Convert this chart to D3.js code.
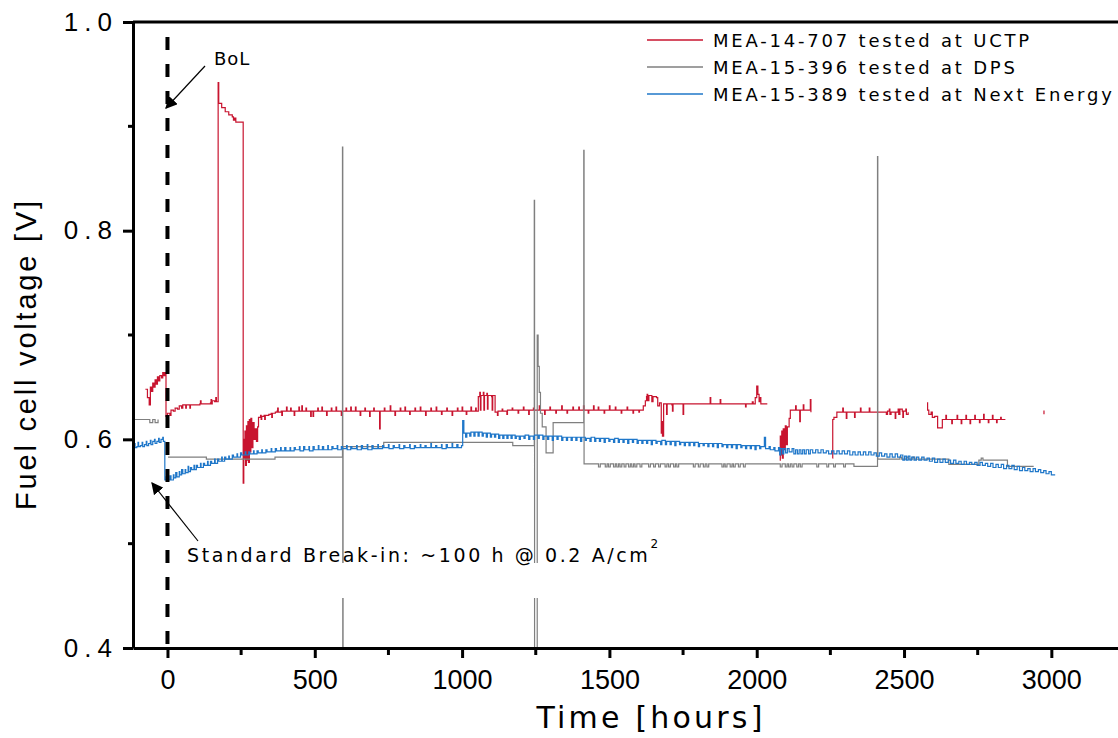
<!DOCTYPE html>
<html>
<head>
<meta charset="utf-8">
<script src="https://cdn.jsdelivr.net/npm/d3@7"></script>
<style>
  body { margin: 0; background: #fff; }
  svg { display: block; font-family: "DejaVu Sans", Verdana, sans-serif; }
  .axis path, .axis line { stroke: #000; stroke-width: 3; }
  .axis text { fill: #000; }
</style>
</head>
<body>
<svg id="chart"></svg>
<script>
// each series is [hours, volts]; a null volt value marks a gap in the record
const uctp = [
  [-75,0.648],[-68,0.640],[-62,0.633],[-58,0.650],[-54,0.646],[-50,0.654],[-46,0.650],[-42,0.657],[-38,0.653],
  [-34,0.660],[-30,0.656],[-26,0.661],[-20,0.659],[-16,0.664],[-12,0.661],[-8,0.664],[-5,0.622],
  [0,0.625],[8,0.623],[12,0.628],[20,0.627],[26,0.630],[34,0.629],[40,0.632],[48,0.630],[52,0.633],[60,0.633],
  [62,0.630],[64,0.633],[74,0.633],[76,0.630],[78,0.633],[90,0.633],[110,0.634],[112,0.637],[114,0.634],[130,0.634],
  [146,0.635],[148,0.638],[150,0.634],[152,0.637],[160,0.636],[164,0.640],[166,0.636],[171,0.636],
  [172,0.942],[174,0.922],[184,0.918],[196,0.914],[208,0.911],[220,0.909],[224,0.906],[228,0.908],[232,0.904],
  [257,0.558],[259,0.600],[261,0.582],[263,0.608],[265,0.575],[268,0.613],[270,0.580],[273,0.617],[275,0.578],
  [278,0.619],[280,0.588],[283,0.620],[286,0.592],[290,0.616],[294,0.600],[298,0.610],[302,0.598],[306,0.612],
  [309,0.621],[316,0.623],[318,0.619],[320,0.622],[328,0.623],[330,0.619],[332,0.623],[344,0.624],[352,0.625],
  [354,0.621],[356,0.625],[366,0.626],[372,0.627],[374,0.630],[376,0.626],[386,0.627],[388,0.623],[390,0.627],
  [404,0.631],[406,0.627],[418,0.630],[420,0.627],[430,0.623],[432,0.627],[446,0.631],[448,0.627],[456,0.632],
  [458,0.627],[470,0.630],[472,0.627],[486,0.622],[488,0.627],[494,0.622],[496,0.627],[510,0.630],[512,0.627],
  [524,0.631],[526,0.627],[540,0.623],[542,0.627],[556,0.630],[558,0.627],[572,0.631],[574,0.627],[590,0.623],
  [592,0.627],[606,0.630],[608,0.627],[622,0.631],[624,0.627],[638,0.631],[640,0.627],[654,0.623],[656,0.627],
  [670,0.630],[672,0.627],[686,0.622],[688,0.627],[700,0.630],[702,0.627],[720,0.610],[722,0.627],[736,0.630],
  [738,0.627],[756,0.632],[758,0.627],[772,0.623],[774,0.627],[790,0.630],[792,0.627],[806,0.631],[808,0.627],
  [822,0.624],[824,0.627],[840,0.630],[842,0.627],[858,0.631],[860,0.627],[876,0.623],[878,0.627],[894,0.630],
  [896,0.627],[912,0.631],[914,0.627],[930,0.624],[932,0.627],[948,0.630],[950,0.627],[966,0.623],[968,0.627],
  [984,0.630],[986,0.627],[1000,0.631],[1002,0.627],[1014,0.624],[1016,0.627],[1030,0.631],[1032,0.627],
  [1046,0.630],[1048,0.627],[1055,0.641],[1060,0.645],[1062,0.628],[1064,0.642],[1072,0.645],[1074,0.628],
  [1076,0.642],[1084,0.644],[1086,0.629],[1088,0.642],[1100,0.641],[1102,0.628],[1104,0.642],[1110,0.642],
  [1112,0.626],[1120,0.623],[1122,0.627],[1136,0.629],[1138,0.627],[1152,0.624],[1154,0.628],[1170,0.630],
  [1172,0.628],[1190,0.625],[1192,0.628],[1208,0.631],[1210,0.628],[1226,0.624],[1228,0.628],[1242,0.630],
  [1244,0.628],[1262,0.632],[1264,0.628],[1280,0.624],[1282,0.628],[1298,0.631],[1300,0.628],[1318,0.625],
  [1320,0.628],[1338,0.632],[1340,0.628],[1356,0.625],[1358,0.628],[1376,0.631],[1378,0.628],[1396,0.631],
  [1398,0.628],[1412,0.632],[1414,0.628],[1428,0.625],[1430,0.628],[1446,0.632],[1448,0.628],[1462,0.631],
  [1464,0.628],[1482,0.625],[1484,0.628],[1500,0.632],[1502,0.628],[1520,0.631],[1522,0.628],[1540,0.625],
  [1542,0.628],[1560,0.631],[1562,0.628],[1580,0.625],[1582,0.628],[1600,0.626],[1602,0.628],
  [1615,0.632],[1622,0.637],[1626,0.641],[1628,0.643],[1630,0.637],[1634,0.642],[1642,0.642],[1644,0.636],
  [1648,0.641],[1660,0.640],[1664,0.632],[1670,0.635],[1676,0.606],[1678,0.617],[1680,0.603],[1684,0.634],
  [1690,0.634],[1694,0.624],[1696,0.634],[1712,0.633],[1714,0.627],[1716,0.634],[1748,0.634],[1750,0.624],
  [1752,0.634],[1842,0.640],[1844,0.634],[1876,0.638],[1878,0.634],[1962,0.631],[1964,0.634],[1985,0.636],
  [1988,0.634],[1995,0.640],[2000,0.651],[2004,0.643],[2008,0.636],[2012,0.640],[2014,0.634],[2036,0.634],
  [2037,null],
  [2078,0.580],[2080,0.603],[2082,0.585],[2085,0.608],[2087,0.582],[2090,0.610],[2093,0.590],[2097,0.613],
  [2100,0.595],[2104,0.612],[2110,0.620],[2114,0.628],[2130,0.628],[2132,0.632],[2134,0.628],[2144,0.628],
  [2146,0.617],[2148,0.628],[2156,0.628],[2158,0.633],[2160,0.628],[2180,0.628],[2182,0.638],[2184,0.626],
  [2185,null],
  [2257,0.582],[2258,0.619],[2262,0.621],[2272,0.626],[2290,0.626],[2292,0.630],[2294,0.626],[2304,0.620],
  [2306,0.626],[2332,0.621],[2334,0.626],[2352,0.630],[2354,0.626],[2382,0.630],[2384,0.626],[2440,0.624],
  [2444,0.627],[2450,0.629],[2452,0.624],[2456,0.626],[2470,0.620],[2472,0.626],[2480,0.629],[2482,0.624],
  [2486,0.629],[2494,0.627],[2496,0.621],[2498,0.627],[2506,0.629],[2508,0.624],[2514,0.626],[2515,null],
  [2578,0.635],[2580,0.628],[2584,0.624],[2592,0.626],[2596,0.621],[2604,0.622],[2614,0.611],[2630,0.619],
  [2642,0.623],[2644,0.619],[2662,0.615],[2664,0.619],[2680,0.623],[2682,0.619],[2694,0.615],[2696,0.619],
  [2710,0.623],[2712,0.619],[2724,0.615],[2726,0.619],[2740,0.623],[2742,0.619],[2756,0.616],[2758,0.619],
  [2770,0.624],[2772,0.619],[2786,0.616],[2788,0.619],[2800,0.623],[2802,0.619],[2814,0.616],[2816,0.619],
  [2828,0.621],[2830,0.619],[2844,0.619],[2845,null],
  [2973,0.627],[2975,0.624],[2976,null]
];

const dps = [
  [-117,0.619],[-62,0.619],[-60,0.616],[-52,0.616],[-50,0.619],[-44,0.619],[-42,0.616],[-34,0.616],[-32,0.619],
  [-31,null],
  [2,0.583],[132,0.581],[360,0.581],[365,0.583],[594,0.880],[595,0.380],[596,0.593],[734,0.597],[1170,0.597],
  [1172,0.594],[1245,0.829],[1246,0.380],[1255,0.700],[1258,0.670],[1262,0.645],[1266,0.625],[1272,0.612],
  [1285,0.587],[1309,0.616],[1413,0.877],[1414,0.5765],
  [1463,0.5735],[1469,0.5765],[1486,0.5735],[1492,0.5765],[1497,0.5735],[1503,0.5765],[1514,0.5735],[1520,0.5765],
  [1525,0.5735],[1531,0.5765],[1536,0.5735],[1542,0.5765],[1550,0.5735],[1556,0.5765],[1565,0.5735],[1571,0.5765],
  [1576,0.5735],[1582,0.5765],[1587,0.5735],[1593,0.5765],[1604,0.5735],[1610,0.5765],[1633,0.5735],[1639,0.5765],
  [1650,0.5735],[1656,0.5765],[1667,0.5735],[1673,0.5765],[1689,0.5735],[1695,0.5765],[1701,0.5735],[1707,0.5765],
  [1718,0.5735],[1724,0.5765],[1729,0.5735],[1735,0.5765],[1785,0.5735],[1791,0.5765],[1802,0.5735],[1808,0.5765],
  [1819,0.5735],[1825,0.5765],[1831,0.5735],[1837,0.5765],[1882,0.5735],[1888,0.5765],[1893,0.5735],[1899,0.5765],
  [1910,0.5735],[1916,0.5765],[1921,0.5735],[1927,0.5765],[1938,0.5735],[1944,0.5765],[1955,0.5735],[1961,0.5765],
  [2080,0.5735],[2086,0.5765],[2097,0.5735],[2103,0.5765],[2108,0.5735],[2114,0.5765],[2120,0.5735],[2126,0.5765],
  [2136,0.5735],[2142,0.5765],[2148,0.5735],[2154,0.5765],[2204,0.5735],[2210,0.5765],[2238,0.5735],[2244,0.5765],
  [2261,0.5735],[2267,0.5765],[2295,0.5735],[2301,0.5765],[2330,0.574],
  [2410,0.871],[2411,0.581],[2486,0.583],[2492,0.581],[2508,0.583],[2514,0.581],[2530,0.583],[2536,0.581],
  [2652,0.576],[2754,0.580],[2762,0.582],[2768,0.580],[2851,0.574],[2940,0.574],[2941,null]
];

const nextEnergy = [
  [-117,0.593],[-112,0.596],[-110,0.592],[-104,0.593],[-100,0.597],[-98,0.593],[-92,0.594],[-86,0.597],[-84,0.593],
  [-78,0.595],[-72,0.598],[-70,0.594],[-64,0.596],[-58,0.599],[-56,0.595],[-50,0.598],[-44,0.600],[-42,0.596],
  [-36,0.598],[-30,0.601],[-28,0.597],[-22,0.600],[-16,0.602],[-14,0.598],[-9,0.561],
  [-4,0.564],[2,0.561],[8,0.565],[12,0.561],[20,0.566],[22,0.563],[28,0.568],[32,0.564],[40,0.569],[42,0.566],
  [48,0.571],[52,0.567],[60,0.571],[62,0.568],[70,0.574],[72,0.569],[78,0.573],[82,0.571],[90,0.575],[92,0.571],
  [98,0.575],[102,0.573],[112,0.577],[114,0.573],[122,0.577],[126,0.575],[136,0.579],[138,0.575],[146,0.579],
  [150,0.577],[160,0.581],[162,0.577],[170,0.581],[174,0.579],[184,0.583],[186,0.579],[194,0.583],[198,0.581],
  [208,0.584],[210,0.581],[220,0.585],[224,0.583],[236,0.586],[238,0.583],[248,0.587],[252,0.585],[264,0.588],
  [266,0.585],[276,0.588],[280,0.586],[292,0.589],[294,0.586],[304,0.589],[308,0.587],[320,0.590],[322,0.587],
  [334,0.590],[338,0.588],[352,0.591],[354,0.588],[366,0.591],[370,0.589],[384,0.592],[386,0.589],[398,0.592],
  [402,0.589],[416,0.592],[418,0.589],[430,0.592],[434,0.590],[448,0.593],[450,0.589],[462,0.593],[466,0.590],
  [480,0.593],[482,0.589],[494,0.593],[498,0.590],[512,0.594],[514,0.590],[526,0.593],[530,0.590],[544,0.594],
  [546,0.590],[558,0.593],[562,0.591],[576,0.594],[578,0.590],[590,0.593],[594,0.591],[608,0.594],[610,0.590],
  [622,0.593],[626,0.591],[642,0.594],[644,0.590],[658,0.594],[662,0.591],[678,0.595],[680,0.590],[694,0.594],
  [698,0.591],[714,0.595],[716,0.591],[730,0.594],[734,0.592],[750,0.595],[752,0.591],[766,0.594],[770,0.592],
  [786,0.595],[788,0.591],[802,0.594],[806,0.592],[822,0.595],[824,0.591],[838,0.594],[842,0.592],[858,0.595],
  [860,0.592],[874,0.594],[878,0.592],[894,0.596],[896,0.592],[910,0.594],[914,0.592],[930,0.595],[932,0.591],
  [946,0.595],[950,0.592],[966,0.596],[968,0.592],[982,0.595],[986,0.592],[998,0.594],
  [1002,0.618],[1006,0.606],[1012,0.602],[1016,0.606],[1026,0.603],[1030,0.607],[1040,0.603],[1044,0.607],
  [1054,0.603],[1058,0.607],[1068,0.603],[1072,0.606],[1082,0.602],[1086,0.606],[1096,0.602],[1100,0.605],
  [1110,0.602],[1114,0.605],[1124,0.601],[1128,0.604],[1138,0.601],[1142,0.604],[1152,0.601],[1156,0.604],
  [1166,0.601],[1170,0.604],[1180,0.601],[1184,0.603],[1194,0.600],[1198,0.603],[1210,0.601],[1214,0.604],
  [1226,0.600],[1230,0.603],[1242,0.600],[1246,0.604],[1258,0.601],[1262,0.604],[1274,0.600],[1278,0.603],
  [1290,0.600],[1294,0.603],[1306,0.599],[1310,0.603],[1322,0.600],[1326,0.603],[1338,0.599],[1342,0.602],
  [1354,0.599],[1358,0.602],[1370,0.599],[1374,0.602],[1386,0.599],[1390,0.602],[1402,0.598],[1406,0.602],
  [1418,0.599],[1422,0.601],[1434,0.598],[1438,0.602],[1450,0.598],[1454,0.601],[1466,0.598],[1470,0.601],
  [1482,0.597],[1486,0.601],[1498,0.598],[1502,0.600],[1514,0.597],[1518,0.601],[1530,0.597],[1534,0.600],
  [1546,0.597],[1550,0.600],[1562,0.596],[1566,0.600],[1578,0.597],[1582,0.600],[1594,0.596],[1598,0.599],
  [1610,0.596],[1614,0.599],[1626,0.596],[1630,0.599],[1642,0.595],[1646,0.599],[1658,0.596],[1662,0.598],
  [1674,0.595],[1678,0.599],[1690,0.595],[1694,0.598],[1706,0.595],[1710,0.598],[1722,0.594],[1726,0.598],
  [1738,0.595],[1742,0.597],[1754,0.594],[1758,0.597],[1770,0.594],[1774,0.597],[1786,0.594],[1790,0.597],
  [1802,0.593],[1806,0.596],[1818,0.594],[1822,0.596],[1834,0.593],[1838,0.596],[1850,0.593],[1854,0.596],
  [1866,0.592],[1870,0.596],[1882,0.593],[1886,0.595],[1898,0.592],[1902,0.595],[1914,0.592],[1918,0.595],
  [1930,0.591],[1934,0.595],[1946,0.592],[1950,0.594],[1962,0.591],[1966,0.594],[1978,0.591],[1982,0.594],
  [1994,0.590],[1998,0.594],[2010,0.591],[2014,0.593],[2026,0.602],[2030,0.591],[2042,0.593],[2046,0.590],
  [2058,0.592],[2062,0.589],[2074,0.592],[2078,0.585],[2082,0.591],[2088,0.586],[2092,0.591],[2098,0.587],
  [2104,0.591],[2110,0.588],[2120,0.591],[2126,0.586],[2132,0.590],[2138,0.586],[2144,0.590],[2150,0.586],
  [2156,0.590],[2162,0.586],[2168,0.590],[2176,0.586],[2182,0.590],[2190,0.587],[2200,0.590],[2208,0.587],
  [2218,0.590],[2226,0.587],[2236,0.589],[2244,0.586],[2254,0.589],[2262,0.586],[2272,0.589],[2280,0.586],
  [2290,0.589],[2298,0.586],[2308,0.589],[2316,0.585],[2326,0.588],[2334,0.585],[2344,0.588],[2352,0.585],
  [2362,0.588],[2370,0.585],[2380,0.588],[2388,0.585],[2398,0.587],[2406,0.584],[2416,0.587],[2424,0.584],
  [2434,0.586],[2442,0.583],[2452,0.586],[2460,0.583],[2470,0.586],[2478,0.583],[2488,0.585],[2496,0.580],
  [2502,0.584],[2508,0.580],[2514,0.584],[2520,0.580],[2526,0.583],[2534,0.580],[2542,0.583],[2550,0.580],
  [2560,0.583],[2568,0.580],[2578,0.582],[2586,0.579],[2596,0.582],[2604,0.578],[2614,0.581],[2622,0.578],
  [2632,0.581],[2640,0.578],[2650,0.580],[2658,0.577],[2668,0.580],[2676,0.577],[2686,0.579],[2694,0.576],
  [2704,0.579],[2712,0.576],[2722,0.578],[2730,0.576],[2740,0.578],[2748,0.575],[2758,0.578],[2766,0.575],
  [2776,0.577],[2784,0.574],[2794,0.577],[2802,0.573],[2812,0.576],[2820,0.573],[2830,0.576],[2838,0.572],
  [2848,0.575],[2856,0.572],[2866,0.575],[2874,0.571],[2884,0.574],[2892,0.570],[2902,0.573],[2910,0.570],
  [2920,0.572],[2928,0.569],[2938,0.572],[2946,0.569],[2956,0.571],[2964,0.568],[2974,0.570],[2982,0.567],
  [2992,0.569],[3000,0.566],[3013,0.566]
];

const seriesNames = ['MEA-14-707 tested at UCTP', 'MEA-15-396 tested at DPS', 'MEA-15-389 tested at Next Energy'];
const seriesColors = ['#c8142f', '#7f7f7f', '#1f77c9'];

const xMajorTicks = [0, 500, 1000, 1500, 2000, 2500, 3000];
const xMinorTicks = [250, 750, 1250, 1750, 2250, 2750, 3250];
const yMajorTicks = [0.4, 0.6, 0.8, 1.0];
const yMinorTicks = [0.5, 0.7, 0.9];

class VoltageChart {

  constructor(_config, _data) {
    this.config = {
      parentElement: _config.parentElement,
      containerWidth: _config.containerWidth || 1118,
      containerHeight: _config.containerHeight || 738,
      margin: { top: 22, bottom: 90, right: -7, left: 133 }
    }
    this.data = _data;
    this.initVis();
  }

  initVis() {
    let vis = this;

    vis.width = vis.config.containerWidth - vis.config.margin.left - vis.config.margin.right;
    vis.height = vis.config.containerHeight - vis.config.margin.top - vis.config.margin.bottom;

    vis.xScale = d3.scaleLinear()
        .domain([-117, 3250])
        .range([0, vis.width]);

    vis.yScale = d3.scaleLinear()
        .domain([0.4, 1.0])
        .range([vis.height, 0]);

    vis.svg = d3.select(vis.config.parentElement)
        .attr('width', vis.config.containerWidth)
        .attr('height', vis.config.containerHeight);

    vis.chart = vis.svg.append('g')
        .attr('transform', `translate(${vis.config.margin.left},${vis.config.margin.top})`);

    // arrow head used by both annotations
    vis.svg.append('defs').append('marker')
        .attr('id', 'arrow')
        .attr('viewBox', '0 0 10 10')
        .attr('refX', 9).attr('refY', 5)
        .attr('markerWidth', 12).attr('markerHeight', 12)
        .attr('markerUnits', 'userSpaceOnUse')
        .attr('orient', 'auto')
      .append('path')
        .attr('d', 'M0,0 L10,5 L0,10 z')
        .attr('fill', '#000');

    vis.svg.select('defs').append('clipPath')
        .attr('id', 'plot-clip')
      .append('rect')
        .attr('width', vis.width).attr('height', vis.height);

    // series
    vis.line = d3.line()
        .defined(d => d[1] !== null)
        .curve(d3.curveStepAfter)
        .x(d => vis.xScale(d[0]))
        .y(d => vis.yScale(d[1]));

    vis.chart.append('g')
        .attr('clip-path', 'url(#plot-clip)')
      .selectAll('.series')
      .data(vis.data)
      .join('path')
        .attr('class', 'series')
        .attr('fill', 'none')
        .attr('stroke', (d, i) => seriesColors[i])
        .attr('stroke-width', 1.2)
        .attr('d', d => vis.line(d));

    // begin-of-life marker
    vis.chart.append('line')
        .attr('x1', vis.xScale(0)).attr('x2', vis.xScale(0))
        .attr('y1', 0).attr('y2', vis.height)
        .attr('stroke', '#000')
        .attr('stroke-width', 4)
        .attr('stroke-dasharray', '13,14')
        .attr('stroke-dashoffset', 12);

    // axes
    vis.xAxis = d3.axisBottom(vis.xScale).tickValues(xMajorTicks).tickSize(10).tickSizeOuter(0)
        .tickFormat(d3.format('d'));
    vis.yAxis = d3.axisLeft(vis.yScale).tickValues(yMajorTicks).tickSize(10).tickSizeOuter(0)
        .tickFormat(d3.format('.1f'));

    vis.xAxisG = vis.chart.append('g')
        .attr('class', 'axis x-axis')
        .attr('transform', `translate(0,${vis.height})`)
        .call(vis.xAxis);
    vis.xAxisG.selectAll('text')
        .attr('y', 41).attr('dy', 0)
        .style('font-size', '27px');
    vis.xAxisG.selectAll('.minor')
      .data(xMinorTicks)
      .join('line')
        .attr('class', 'minor')
        .attr('x1', d => vis.xScale(d)).attr('x2', d => vis.xScale(d))
        .attr('y1', 0).attr('y2', 7);

    vis.yAxisG = vis.chart.append('g')
        .attr('class', 'axis y-axis')
        .call(vis.yAxis);
    vis.yAxisG.selectAll('text')
        .attr('x', -15).attr('dy', 8)
        .style('font-size', '26px')
        .style('letter-spacing', '6px');
    vis.yAxisG.selectAll('.minor')
      .data(yMinorTicks)
      .join('line')
        .attr('class', 'minor')
        .attr('y1', d => vis.yScale(d)).attr('y2', d => vis.yScale(d))
        .attr('x1', 0).attr('x2', -5);

    // top frame line
    vis.chart.append('line')
        .attr('x1', 0).attr('x2', vis.width)
        .attr('y1', 0).attr('y2', 0)
        .attr('stroke', '#000').attr('stroke-width', 3);

    // axis titles
    vis.svg.append('text')
        .attr('x', 651)
        .attr('y', 728)
        .attr('text-anchor', 'middle')
        .style('font-size', '30px')
        .style('letter-spacing', '3.2px')
        .text('Time [hours]');

    vis.svg.append('text')
        .attr('transform', 'translate(36,354) rotate(-90)')
        .attr('text-anchor', 'middle')
        .style('font-family', '"Liberation Sans", Arial, sans-serif')
        .style('font-size', '29px')
        .style('letter-spacing', '2.8px')
        .text('Fuel cell voltage [V]');

    // legend
    let legend = vis.svg.append('g')
        .attr('transform', 'translate(647,40)');
    legend.selectAll('line')
      .data(seriesNames)
      .join('line')
        .attr('x1', 0).attr('x2', 56)
        .attr('y1', (d, i) => i * 27).attr('y2', (d, i) => i * 27)
        .attr('stroke', (d, i) => seriesColors[i])
        .attr('stroke-width', 1.3);
    legend.selectAll('text')
      .data(seriesNames)
      .join('text')
        .attr('x', 66)
        .attr('y', (d, i) => i * 27 + 7)
        .style('font-size', '18px')
        .style('letter-spacing', '2.8px')
        .text(d => d);

    // annotations
    vis.svg.append('text')
        .attr('x', 214).attr('y', 65)
        .style('font-size', '18px')
        .style('letter-spacing', '1px')
        .text('BoL');
    vis.svg.append('line')
        .attr('x1', 205).attr('y1', 66)
        .attr('x2', 166).attr('y2', 108)
        .attr('stroke', '#000').attr('stroke-width', 1.2)
        .attr('marker-end', 'url(#arrow)');

    // the break-in note sits on a white box that hides the lines just below it
    vis.svg.append('rect')
        .attr('x', 185).attr('y', 563)
        .attr('width', 470).attr('height', 35)
        .attr('fill', '#fff');
    let note = vis.svg.append('text')
        .attr('x', 187).attr('y', 562)
        .style('font-size', '19px')
        .style('letter-spacing', '2.6px');
    note.append('tspan').text('Standard Break-in: ~100 h @ 0.2 A/cm');
    note.append('tspan')
        .attr('dy', -14)
        .style('font-size', '12px')
        .text('2');
    vis.svg.append('line')
        .attr('x1', 198).attr('y1', 541)
        .attr('x2', 152).attr('y2', 483)
        .attr('stroke', '#000').attr('stroke-width', 1.2)
        .attr('marker-end', 'url(#arrow)');
  }
}

let chart = new VoltageChart({ parentElement: '#chart' }, [uctp, dps, nextEnergy]);
</script>
</body>
</html>
